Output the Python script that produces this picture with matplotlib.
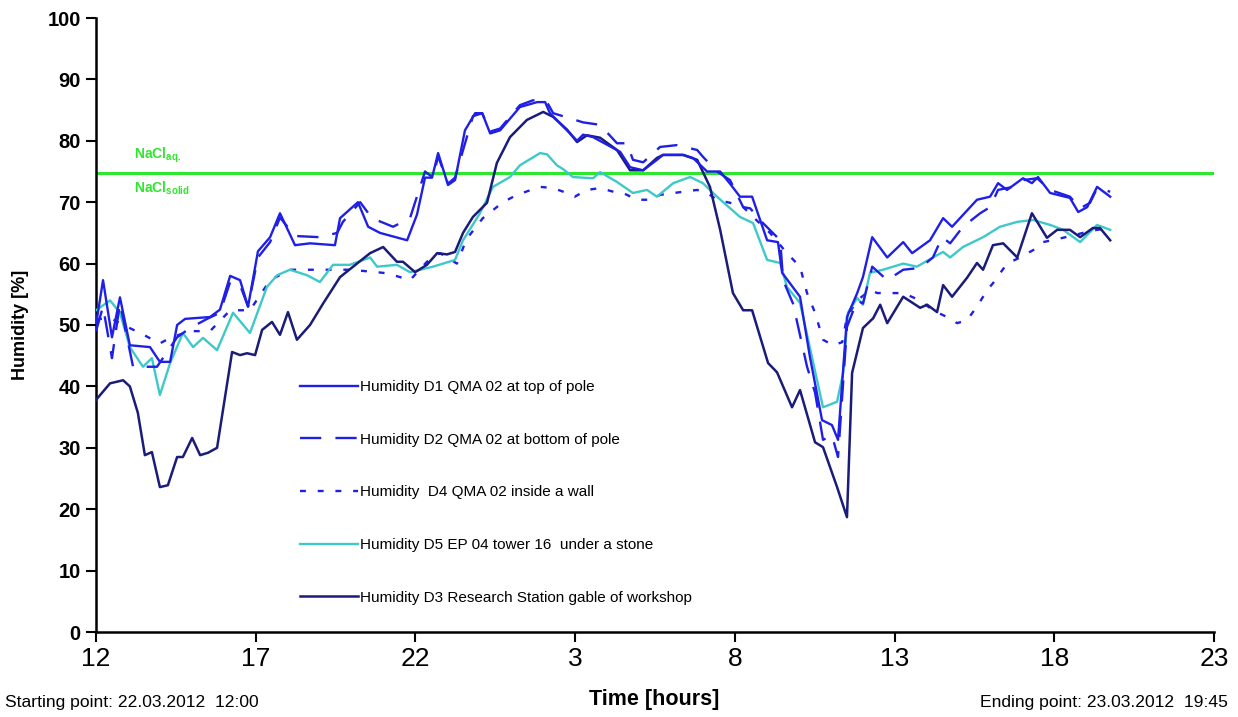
import matplotlib
matplotlib.use("Agg")
import matplotlib.pyplot as plt

plt.rcParams['font.family'] = ['Liberation Sans', 'DejaVu Sans']

# ---------------- data (hours since 22.03.2012 12:00, humidity %) ----------------
d1_t = [0, 0.22, 0.5, 0.75, 1.06, 1.69, 2.0, 2.32, 2.54, 2.79, 3.57, 3.88, 4.2, 4.51, 4.76,
        5.07, 5.45, 5.76, 6.23, 6.7, 7.48, 7.64, 8.2, 8.52, 8.89, 9.74, 10.05, 10.3, 10.52,
        10.71, 11.02, 11.24, 11.55, 11.87, 12.09, 12.34, 12.65, 13.27, 13.81, 14.06, 14.21,
        14.84, 15.06, 15.25, 15.56, 16.41, 16.72, 17.13, 17.56, 17.75, 18.38, 18.69, 19.13,
        19.54, 19.85, 20.16, 20.54, 21.01, 21.35, 21.48, 22.04, 22.35, 22.73, 23.04, 23.23,
        23.51, 23.83, 24.01, 24.3, 24.77, 25.27, 25.55, 26.11, 26.52, 26.8, 27.58, 27.99,
        28.24, 28.52, 29.02, 29.3, 29.49, 29.87, 30.49, 30.75, 31.03, 31.34, 31.75]
d1_v = [50, 57.3, 48, 54.5, 46.7, 46.4, 44, 44, 50, 51, 51.3, 52.5, 58, 57.3, 53,
        62, 64.3, 68.2, 63, 63.3, 63, 67.4, 70, 66, 65, 63.8, 68, 74, 74,
        78, 72.8, 73.6, 81.7, 84.5, 84.5, 81.2, 81.7, 85.5, 86.3, 86.3, 84.5,
        81.2, 80, 81, 80.6, 78.2, 75.7, 75.2, 76.9, 77.7, 77.7, 77.2, 75,
        75, 73, 70.9, 70.9, 63.8, 63.5, 58.5, 54.6, 44.8, 34.5, 33.7, 31.3,
        51.3, 55.2, 57.8, 64.3, 61, 63.5, 61.7, 63.8, 67.4, 66, 70.4, 70.9,
        73.1, 72, 73.9, 73.1, 74.1, 71.5, 70.7, 68.4, 69.2, 72.5, 70.9]

d2_t = [0, 0.22, 0.5, 0.75, 1.16, 1.91, 2.54, 2.94, 3.48, 3.88, 4.2, 4.51, 4.76, 5.07, 5.45,
        5.76, 6.23, 7.01, 7.55, 7.73, 8.27, 8.64, 9.3, 9.83, 10.3, 10.55, 10.71, 11.02, 11.24,
        11.8, 12.09, 12.34, 12.65, 13.27, 13.68, 14.12, 14.31, 15.25, 15.78, 16.31, 16.62,
        16.81, 17.13, 17.66, 18.19, 18.82, 19.0, 19.44, 19.85, 20.26, 20.48, 20.88, 21.42,
        21.51, 21.82, 22.26, 22.51, 22.76, 23.04, 23.23, 23.51, 23.83, 24.01, 24.3, 24.77,
        25.27, 25.8, 26.2, 26.49, 26.74, 27.14, 27.68, 27.99, 28.24, 28.71, 29.02, 29.46,
        29.87, 30.49, 30.81, 31.12, 31.34, 31.75]
d2_v = [49, 53, 44.6, 53.6, 43.2, 43.2, 48, 49.5, 51, 52, 57, 56.5, 53, 61, 63.5,
        67.5, 64.5, 64.3, 65, 66.8, 70, 67.4, 66, 67.4, 75, 74, 77.5, 73, 74,
        84, 84.5, 81.5, 82, 85.8, 86.6, 86.3, 84.5, 83, 82.6, 79.6, 79.6,
        76.9, 76.5, 79, 79.3, 78.5, 77.4, 75, 73.6, 69.2, 69, 66.6, 63.8,
        57.3, 53.5, 43.2, 39, 31.3, 32, 28.5, 49.7, 54, 53.5, 59.5, 57.3,
        59, 59.3, 61, 64.3, 63.3, 66, 68.2, 69.2, 72, 72.5, 73.6, 73.9,
        72, 70.9, 69, 69.9, 72.3, 71.7]

d4_t = [0, 0.5, 0.85, 1.38, 2.0, 2.32, 2.94, 3.57, 4.2, 4.82, 5.45, 6.07, 7.95, 8.8, 9.14,
        9.83, 10.36, 10.77, 11.3, 11.6, 12.11, 12.74, 13.18, 13.9, 14.31, 14.74, 14.99,
        15.37, 15.78, 16.2, 16.5, 16.94, 17.34, 17.66, 18.38, 18.82, 19.13, 19.44, 19.85,
        20.26, 20.69, 21.1, 21.63, 22.04, 22.26, 22.51, 22.76, 23.07, 23.36, 23.51, 23.83,
        24.24, 24.46, 24.96, 25.27, 25.8, 26.2, 26.64, 26.96, 27.27, 27.58, 27.9, 28.08,
        28.52, 28.93, 29.34, 29.65, 30.27, 30.9, 31.34, 31.75]
d4_v = [51, 51, 50, 48.7, 47, 47.9, 49, 49, 52.4, 52.4, 57.3, 59, 59, 58.6, 58.4,
        57.3, 60.3, 61.7, 60, 64, 67.4, 70, 71.2, 72.5, 72.3, 71.5, 70.9,
        72, 72.3, 71.7, 71.5, 70.4, 70.4, 71.2, 71.7, 72, 71.5, 70.4, 69.9,
        69.2, 67, 65, 61.7, 59.5, 55.2, 52, 47.6, 46.7, 47.2, 51.3, 54,
        55.7, 55.2, 55.2, 55.2, 54, 52.4, 51.3, 50.3, 50.8, 53, 55.7, 56.8,
        60, 61, 62.2, 63.5, 64.2, 65, 65.5, 65.8]

d5_t = [0, 0.44, 0.75, 1.06, 1.47, 1.75, 2.0, 2.32, 2.72, 3.04, 3.35, 3.79, 4.29, 4.82, 5.35,
        5.67, 6.07, 6.61, 7.01, 7.42, 7.95, 8.58, 8.8, 9.42, 9.83, 10.55, 11.24, 11.49, 12.02,
        12.43, 12.96, 13.27, 13.9, 14.12, 14.43, 14.62, 14.93, 15.56, 15.78, 16.31, 16.81,
        17.25, 17.56, 18.07, 18.6, 19.0, 19.44, 20.16, 20.57, 21.01, 21.42, 21.63, 22.04,
        22.76, 23.2, 23.39, 23.54, 23.83, 24.01, 24.23, 24.64, 25.27, 25.7, 26.2, 26.52,
        26.74, 27.14, 27.77, 28.3, 28.84, 29.34, 29.87, 30.28, 30.81, 31.34, 31.75]
d5_v = [52.4, 54, 52, 46.4, 43.2, 44.6, 38.6, 43.8, 48.7, 46.4, 47.9, 45.9, 52, 48.7, 56.2,
        58.1, 59, 58.1, 57, 59.8, 59.8, 61, 59.5, 59.8, 58.6, 59.5, 60.6, 63.8, 68.2,
        72.5, 74.1, 76, 78, 77.8, 76, 75.4, 74.1, 73.9, 74.9, 73.3, 71.5,
        72, 70.9, 73.1, 74.1, 73.1, 70.9, 67.6, 66.6, 60.6, 60.1, 56.2, 53.6,
        36.6, 37.5, 42.2, 52, 54.4, 53.3, 58.5, 59, 60, 59.5, 61, 61.9,
        61, 62.7, 64.3, 66, 66.8, 67.1, 66.3, 65.5, 63.5, 66.3, 65.5]

d3_t = [0, 0.44, 0.85, 1.06, 1.31, 1.53, 1.75, 2.0, 2.25, 2.54, 2.72, 3.01, 3.26, 3.51, 3.79,
        4.26, 4.51, 4.73, 4.98, 5.2, 5.51, 5.76, 6.01, 6.29, 6.7, 7.11, 7.64, 8.17, 8.58,
        8.99, 9.42, 9.61, 9.99, 10.36, 10.68, 10.99, 11.24, 11.49, 11.8, 12.24, 12.55, 12.96,
        13.49, 14.0, 14.31, 14.75, 15.06, 15.37, 15.78, 16.31, 16.72, 17.13, 17.56, 17.75,
        18.38, 18.82, 19.22, 19.54, 19.94, 20.26, 20.54, 21.04, 21.32, 21.79, 22.04, 22.51,
        22.76, 23.2, 23.51, 23.67, 24.01, 24.33, 24.55, 24.77, 25.27, 25.8, 26.02, 26.33,
        26.52, 26.8, 27.27, 27.58, 27.77, 28.08, 28.4, 28.84, 29.3, 29.77, 30.09, 30.49,
        30.81, 31.21, 31.43, 31.75]
d3_v = [37.8, 40.5, 41, 40, 35.7, 28.8, 29.3, 23.6, 23.9, 28.5, 28.5, 31.6, 28.8, 29.2, 30,
        45.6, 45.1, 45.4, 45.1, 49.2, 50.5, 48.4, 52.1, 47.6, 50, 53.5, 57.8, 60, 61.7,
        62.7, 60.3, 60.3, 58.6, 59.8, 61.7, 61.5, 61.9, 65, 67.6, 69.9, 76.4, 80.6,
        83.4, 84.7, 83.9, 81.8, 79.8, 80.9, 80.5, 78.5, 75.2, 75.2, 77.2, 77.7,
        77.7, 76.9, 72.5, 65.5, 55.2, 52.4, 52.4, 43.8, 42.3, 36.6, 39.4, 30.9,
        30.1, 23.6, 18.7, 42.2, 49.5, 51.1, 53.3, 50.3, 54.6, 52.8, 53.3, 52.1,
        56.5, 54.6, 57.7, 60.1, 59, 63, 63.3, 61, 68.2, 64.2, 65.5, 65.5,
        64.3, 65.8, 65.8, 63.8]

nacl_level = 74.8
x_ticks = [0, 5, 10, 15, 20, 25, 30, 35]
x_ticklabels = ['12', '17', '22', '3', '8', '13', '18', '23']
y_ticks = [0, 10, 20, 30, 40, 50, 60, 70, 80, 90, 100]

labels = ['Humidity D1 QMA 02 at top of pole',
          'Humidity D2 QMA 02 at bottom of pole',
          'Humidity  D4 QMA 02 inside a wall',
          'Humidity D5 EP 04 tower 16  under a stone',
          'Humidity D3 Research Station gable of workshop']

# ---------------- styling ----------------
c_blue = '#1f1fe6'
c_turq = '#3fc8c8'
c_navy = '#1b1b7a'
c_green = '#2ee62e'

fig = plt.figure(figsize=(12.38, 7.17), dpi=100)
ax = fig.add_axes([96 / 1238, 1 - 632 / 717, (1214 - 96) / 1238, (632 - 18) / 717])

ax.axhline(nacl_level, color=c_green, lw=2.2, zorder=1)

l1, = ax.plot(d1_t, d1_v, color=c_blue, lw=1.7, zorder=5)
l2, = ax.plot(d2_t, d2_v, color=c_blue, lw=1.7, dashes=(9, 6), zorder=4)
l4, = ax.plot(d4_t, d4_v, color=c_blue, lw=1.7, dashes=(2.5, 5), zorder=3)
l5, = ax.plot(d5_t, d5_v, color=c_turq, lw=1.7, zorder=3)
l3, = ax.plot(d3_t, d3_v, color=c_navy, lw=1.8, zorder=3)

ax.set_xlim(0, 35)
ax.set_ylim(0, 100)
ax.set_xticks(x_ticks)
ax.set_xticklabels(x_ticklabels, fontsize=19)
ax.set_yticks(y_ticks)
ax.set_yticklabels([str(v) for v in y_ticks], fontsize=14.5, fontweight='bold')
ax.tick_params(axis='both', direction='out', length=7, width=1.5, color='black')
ax.tick_params(axis='x', pad=4)
ax.tick_params(axis='y', pad=4)
for s in ['top', 'right']:
    ax.spines[s].set_visible(False)
for s in ['left', 'bottom']:
    ax.spines[s].set_linewidth(1.8)

ax.set_ylabel('Humidity [%]', fontsize=13, fontweight='bold', labelpad=13)
fig.text(654 / 1238, 1 - 700 / 717, 'Time [hours]', fontsize=15.5, fontweight='bold',
         ha='center', va='center')
fig.text(5 / 1238, 1 - 703 / 717, 'Starting point: 22.03.2012  12:00', fontsize=12.6,
         ha='left', va='center')
fig.text(1228 / 1238, 1 - 703 / 717, 'Ending point: 23.03.2012  19:45', fontsize=12.6,
         ha='right', va='center')

ax.text(1.2, nacl_level + 1.3, r'$\mathregular{NaCl_{aq.}}$', color=c_green, fontsize=10,
        fontweight='bold', ha='left', va='bottom')
ax.text(1.2, nacl_level - 1.2, r'$\mathregular{NaCl_{solid}}$', color=c_green, fontsize=10,
        fontweight='bold', ha='left', va='top')

leg = ax.legend([l1, l2, l4, l5, l3], labels, loc='upper left',
                bbox_to_anchor=((300 - 96) / 1118, (632 - 380) / 614),
                frameon=False, fontsize=11, handlelength=3.8, handletextpad=0.15,
                labelspacing=2.53, borderpad=0, borderaxespad=0)

fig.savefig('out.png', dpi=100)
